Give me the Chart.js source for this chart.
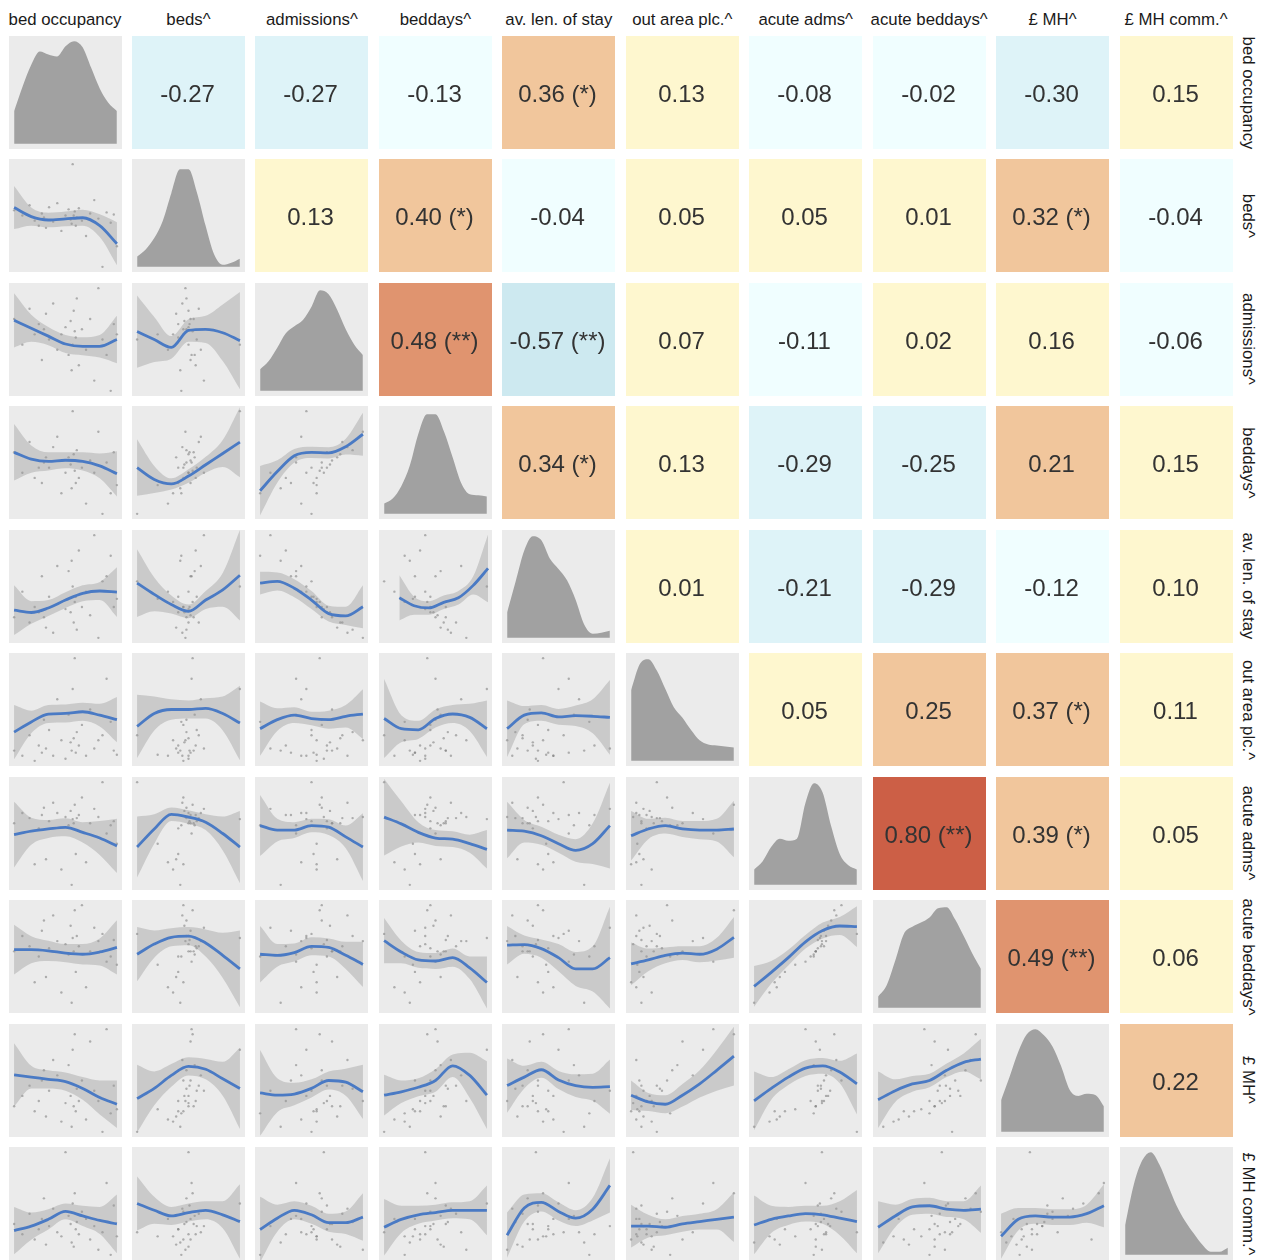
<!DOCTYPE html>
<html>
<head>
<meta charset="utf-8">
<script src="https://cdn.jsdelivr.net/npm/chart.js@4.4.1/dist/chart.umd.min.js"></script>
<style>
body { margin: 0; background: #fff; }
#wrap { position: relative; width: 1265px; height: 1260px; overflow: hidden; font-family: "Liberation Sans", Arial, sans-serif; }
.strip { position: absolute; font-size: 16.8px; color: #1a1a1a; white-space: nowrap; line-height: 18px; }
</style>
</head>
<body>
<div id="wrap"></div>
<script>
// variable names (strip labels)
const variables = ["bed occupancy", "beds^", "admissions^", "beddays^", "av. len. of stay",
    "out area plc.^", "acute adms^", "acute beddays^", "£ MH^", "£ MH comm.^"];

// observations, scaled 0-100 within each variable's range
const bedOccupancy = [0, 8, 15, 20, 24, 27, 29, 31, 34, 38, 42, 46, 50, 53, 55, 56, 57, 58, 59, 60, 61, 63, 66, 70, 74, 78, 82, 86, 90, 94, 97, 100];
const beds = [55, 50, 60, 45, 40, 52, 48, 38, 58, 44, 62, 35, 50, 56, 46, 42, 100, 50, 54, 40, 48, 57, 45, 30, 52, 65, 47, 0, 53, 43, 51, 20];
const admissions = [70, 45, 80, 55, 65, 30, 60, 75, 50, 85, 40, 55, 62, 35, 68, 20, 45, 78, 58, 52, 90, 25, 60, 40, 70, 10, 100, 50, 35, 0, 65, 55];
const beddays = [60, 40, 70, 35, 45, 30, 50, 55, 45, 65, 75, 20, 40, 55, 48, 25, 100, 58, 42, 30, 62, 35, 45, 10, 52, 40, 80, 0, 50, 20, 60, 28];
const avLenStay = [20, 45, 15, 30, 25, 60, 20, 10, 40, 5, 70, 35, 28, 65, 25, 75, 50, 15, 35, 40, 8, 85, 30, 45, 22, 100, 0, 55, 60, 80, 30, 38];
const outArea = [10, 5, 25, 0, 15, 8, 40, 12, 30, 5, 60, 20, 2, 45, 18, 10, 70, 22, 100, 8, 28, 15, 35, 5, 50, 12, 20, 25, 80, 38, 10, 6];
const acuteAdms = [60, 70, 65, 20, 55, 68, 75, 25, 62, 80, 70, 15, 66, 58, 72, 0, 64, 60, 78, 30, 65, 68, 85, 22, 60, 74, 66, 100, 50, 58, 62, 40];
const acuteBeddays = [55, 70, 60, 25, 50, 75, 85, 30, 58, 90, 65, 15, 62, 52, 80, 5, 68, 55, 95, 35, 70, 60, 100, 20, 55, 78, 65, 72, 45, 50, 66, 42];
const mhSpend = [25, 35, 45, 20, 30, 50, 60, 15, 40, 70, 55, 10, 28, 65, 35, 5, 80, 25, 95, 20, 42, 30, 50, 12, 88, 40, 30, 0, 100, 18, 45, 22];
const mhComm = [30, 20, 40, 15, 25, 35, 55, 10, 28, 45, 22, 18, 100, 38, 30, 12, 50, 8, 60, 25, 32, 20, 42, 35, 15, 28, 5, 22, 70, 0, 48, 18];
const varValues = [bedOccupancy, beds, admissions, beddays, avLenStay, outArea, acuteAdms, acuteBeddays, mhSpend, mhComm];

// upper panels, row by row
const corrValues = [
    -0.27, -0.27, -0.13, 0.36, 0.13, -0.08, -0.02, -0.30, 0.15,
    0.13, 0.40, -0.04, 0.05, 0.05, 0.01, 0.32, -0.04,
    0.48, -0.57, 0.07, -0.11, 0.02, 0.16, -0.06,
    0.34, 0.13, -0.29, -0.25, 0.21, 0.15,
    0.01, -0.21, -0.29, -0.12, 0.10,
    0.05, 0.25, 0.37, 0.11,
    0.80, 0.39, 0.05,
    0.49, 0.06,
    0.22];
const corrStars = [
    "", "", "", "*", "", "", "", "", "",
    "", "*", "", "", "", "", "*", "",
    "**", "**", "", "", "", "", "",
    "*", "", "", "", "", "",
    "", "", "", "", "",
    "", "", "*", "",
    "**", "*", "",
    "**", "",
    ""];

// diagonal densities (relative height) on a 13 point grid
const densityX = [0, 0.0833, 0.1667, 0.25, 0.3333, 0.4167, 0.5, 0.5833, 0.6667, 0.75, 0.8333, 0.9167, 1];
const densityHeights = [
    [0.32, 0.56, 0.77, 0.90, 0.87, 0.85, 0.95, 1.0, 0.94, 0.74, 0.54, 0.40, 0.32],
    [0.10, 0.17, 0.28, 0.45, 0.72, 0.95, 0.95, 0.72, 0.40, 0.12, 0.02, 0.04, 0.08],
    [0.21, 0.29, 0.42, 0.56, 0.63, 0.69, 0.82, 0.98, 0.94, 0.79, 0.60, 0.45, 0.35],
    [0.10, 0.15, 0.27, 0.47, 0.78, 0.97, 0.97, 0.80, 0.55, 0.30, 0.19, 0.18, 0.17],
    [0.25, 0.55, 0.85, 0.99, 0.95, 0.77, 0.67, 0.56, 0.37, 0.13, 0.04, 0.05, 0.07],
    [0.69, 0.94, 0.99, 0.88, 0.70, 0.52, 0.42, 0.30, 0.20, 0.16, 0.15, 0.14, 0.13],
    [0.15, 0.23, 0.37, 0.45, 0.43, 0.45, 0.80, 0.99, 0.90, 0.57, 0.30, 0.19, 0.15],
    [0.11, 0.22, 0.46, 0.72, 0.79, 0.83, 0.88, 0.97, 0.98, 0.86, 0.70, 0.53, 0.38],
    [0.31, 0.54, 0.78, 0.95, 1.0, 0.94, 0.83, 0.64, 0.41, 0.35, 0.37, 0.36, 0.25],
    [0.29, 0.68, 0.92, 1.0, 0.88, 0.68, 0.48, 0.33, 0.21, 0.10, 0.03, 0.03, 0.07]];

// lower panels: loess fit and se half-width, as a fraction of the panel, row by row
const smoothX = [0.045, 0.197, 0.348, 0.5, 0.652, 0.803, 0.955];
const smoothXShort = [0.18, 0.311, 0.442, 0.573, 0.703, 0.834, 0.965];
const smoothFit = [
    [0.57, 0.49, 0.46, 0.47, 0.48, 0.41, 0.25],
    [0.67, 0.60, 0.53, 0.46, 0.44, 0.44, 0.50],
    [0.57, 0.50, 0.43, 0.58, 0.59, 0.56, 0.49],
    [0.59, 0.53, 0.51, 0.52, 0.51, 0.47, 0.40],
    [0.455, 0.35, 0.31, 0.38, 0.48, 0.58, 0.68],
    [0.25, 0.42, 0.56, 0.59, 0.585, 0.64, 0.75],
    [0.29, 0.27, 0.31, 0.38, 0.44, 0.46, 0.45],
    [0.53, 0.43, 0.34, 0.28, 0.38, 0.47, 0.60],
    [0.53, 0.545, 0.485, 0.38, 0.26, 0.24, 0.32],
    [0.40, 0.33, 0.31, 0.36, 0.40, 0.51, 0.66],
    [0.30, 0.39, 0.46, 0.465, 0.48, 0.45, 0.41],
    [0.35, 0.465, 0.50, 0.50, 0.51, 0.465, 0.38],
    [0.33, 0.41, 0.45, 0.42, 0.41, 0.44, 0.46],
    [0.42, 0.33, 0.32, 0.42, 0.46, 0.43, 0.33],
    [0.33, 0.45, 0.47, 0.435, 0.445, 0.44, 0.43],
    [0.49, 0.52, 0.54, 0.555, 0.51, 0.46, 0.39],
    [0.38, 0.54, 0.67, 0.645, 0.60, 0.50, 0.38],
    [0.57, 0.53, 0.53, 0.57, 0.556, 0.47, 0.38],
    [0.645, 0.585, 0.51, 0.46, 0.45, 0.41, 0.36],
    [0.53, 0.52, 0.48, 0.41, 0.35, 0.41, 0.57],
    [0.48, 0.54, 0.57, 0.54, 0.53, 0.53, 0.54],
    [0.56, 0.56, 0.55, 0.53, 0.52, 0.54, 0.58],
    [0.52, 0.61, 0.67, 0.68, 0.62, 0.51, 0.39],
    [0.52, 0.51, 0.535, 0.59, 0.58, 0.51, 0.43],
    [0.64, 0.54, 0.47, 0.46, 0.49, 0.40, 0.27],
    [0.60, 0.605, 0.57, 0.49, 0.39, 0.39, 0.49],
    [0.435, 0.47, 0.51, 0.53, 0.52, 0.565, 0.67],
    [0.235, 0.36, 0.49, 0.63, 0.73, 0.77, 0.765],
    [0.55, 0.53, 0.51, 0.49, 0.43, 0.35, 0.29],
    [0.34, 0.43, 0.545, 0.625, 0.60, 0.515, 0.43],
    [0.39, 0.37, 0.38, 0.43, 0.50, 0.485, 0.40],
    [0.37, 0.40, 0.44, 0.50, 0.63, 0.545, 0.37],
    [0.455, 0.53, 0.595, 0.505, 0.455, 0.44, 0.445],
    [0.37, 0.31, 0.29, 0.37, 0.47, 0.59, 0.715],
    [0.32, 0.43, 0.53, 0.61, 0.63, 0.575, 0.47],
    [0.33, 0.41, 0.47, 0.50, 0.59, 0.66, 0.69],
    [0.26, 0.30, 0.36, 0.43, 0.39, 0.35, 0.32],
    [0.50, 0.44, 0.39, 0.42, 0.44, 0.40, 0.34],
    [0.27, 0.37, 0.44, 0.40, 0.33, 0.33, 0.38],
    [0.29, 0.36, 0.40, 0.42, 0.44, 0.44, 0.44],
    [0.22, 0.46, 0.51, 0.43, 0.37, 0.45, 0.66],
    [0.30, 0.30, 0.29, 0.32, 0.34, 0.36, 0.38],
    [0.31, 0.36, 0.39, 0.41, 0.40, 0.37, 0.34],
    [0.29, 0.39, 0.47, 0.48, 0.45, 0.44, 0.45],
    [0.21, 0.36, 0.39, 0.38, 0.38, 0.41, 0.48]];
const smoothSE = [
    [0.19, 0.08, 0.065, 0.065, 0.07, 0.10, 0.19],
    [0.24, 0.12, 0.08, 0.08, 0.08, 0.10, 0.21],
    [0.32, 0.20, 0.10, 0.10, 0.12, 0.25, 0.43],
    [0.25, 0.12, 0.08, 0.07, 0.08, 0.11, 0.20],
    [0.25, 0.12, 0.05, 0.06, 0.07, 0.12, 0.31],
    [0.22, 0.10, 0.06, 0.05, 0.05, 0.07, 0.19],
    [0.22, 0.10, 0.07, 0.07, 0.07, 0.08, 0.22],
    [0.30, 0.15, 0.08, 0.06, 0.08, 0.15, 0.40],
    [0.10, 0.08, 0.08, 0.08, 0.07, 0.08, 0.19],
    [0.20, 0.08, 0.06, 0.06, 0.06, 0.08, 0.30],
    [0.24, 0.10, 0.08, 0.08, 0.08, 0.10, 0.20],
    [0.28, 0.15, 0.09, 0.08, 0.09, 0.15, 0.33],
    [0.24, 0.10, 0.07, 0.06, 0.08, 0.10, 0.22],
    [0.35, 0.12, 0.08, 0.08, 0.08, 0.12, 0.25],
    [0.25, 0.08, 0.07, 0.07, 0.09, 0.15, 0.33],
    [0.29, 0.12, 0.08, 0.08, 0.09, 0.15, 0.24],
    [0.27, 0.13, 0.06, 0.06, 0.07, 0.15, 0.32],
    [0.27, 0.10, 0.07, 0.06, 0.07, 0.10, 0.30],
    [0.34, 0.20, 0.09, 0.07, 0.07, 0.08, 0.17],
    [0.25, 0.10, 0.08, 0.08, 0.10, 0.18, 0.38],
    [0.22, 0.09, 0.07, 0.07, 0.08, 0.10, 0.25],
    [0.22, 0.12, 0.09, 0.08, 0.09, 0.12, 0.24],
    [0.24, 0.12, 0.08, 0.08, 0.12, 0.20, 0.34],
    [0.25, 0.10, 0.08, 0.08, 0.08, 0.12, 0.20],
    [0.20, 0.10, 0.07, 0.07, 0.08, 0.10, 0.23],
    [0.17, 0.08, 0.08, 0.12, 0.15, 0.20, 0.45],
    [0.19, 0.10, 0.07, 0.06, 0.07, 0.10, 0.18],
    [0.18, 0.10, 0.07, 0.06, 0.07, 0.08, 0.18],
    [0.28, 0.10, 0.08, 0.08, 0.10, 0.15, 0.21],
    [0.30, 0.15, 0.10, 0.08, 0.09, 0.15, 0.36],
    [0.38, 0.15, 0.10, 0.08, 0.08, 0.12, 0.24],
    [0.18, 0.10, 0.08, 0.10, 0.10, 0.20, 0.30],
    [0.24, 0.10, 0.07, 0.08, 0.10, 0.12, 0.24],
    [0.13, 0.08, 0.08, 0.10, 0.12, 0.18, 0.26],
    [0.26, 0.10, 0.07, 0.07, 0.07, 0.10, 0.27],
    [0.25, 0.10, 0.07, 0.06, 0.06, 0.08, 0.18],
    [0.21, 0.12, 0.09, 0.07, 0.09, 0.12, 0.26],
    [0.24, 0.12, 0.08, 0.08, 0.08, 0.12, 0.33],
    [0.29, 0.12, 0.08, 0.08, 0.08, 0.10, 0.21],
    [0.25, 0.12, 0.08, 0.07, 0.07, 0.08, 0.22],
    [0.20, 0.12, 0.08, 0.08, 0.07, 0.10, 0.24],
    [0.19, 0.10, 0.07, 0.07, 0.07, 0.09, 0.22],
    [0.26, 0.12, 0.08, 0.07, 0.08, 0.15, 0.28],
    [0.23, 0.10, 0.07, 0.07, 0.07, 0.08, 0.21],
    [0.20, 0.10, 0.07, 0.07, 0.07, 0.08, 0.19]];

const LEFT0 = 8.5, TOP0 = 36, PITCH = 123.45, SIZE = 113;
const PANEL_BG = "#EBEBEB", DENS_FILL = "#A1A1A1", BAND = "rgba(153,153,153,0.4)";
const LINE_BLUE = "#4A7AC4", DOT = "rgba(120,120,120,0.55)";

Chart.defaults.animation = false;
Chart.defaults.events = [];
Chart.defaults.devicePixelRatio = 1;
Chart.defaults.layout.autoPadding = false;
Chart.defaults.layout.padding = 0;
Chart.defaults.plugins.legend.display = false;
Chart.defaults.plugins.tooltip.enabled = false;

const wrap = document.getElementById("wrap");

const panelBg = {
    id: "panelBg",
    beforeDraw(chart, args, opts) {
        const a = chart.chartArea;
        chart.ctx.save();
        chart.ctx.fillStyle = opts.color;
        chart.ctx.fillRect(a.left, a.top, a.right - a.left, a.bottom - a.top);
        chart.ctx.restore();
    }
};

const corrLabel = {
    id: "corrLabel",
    afterDatasetsDraw(chart, args, opts) {
        const a = chart.chartArea, ctx = chart.ctx;
        ctx.save();
        ctx.font = '24px "Liberation Sans", Arial, sans-serif';
        ctx.fillStyle = "#333333";
        ctx.textAlign = "center";
        ctx.textBaseline = "middle";
        ctx.fillText(opts.text, (a.left + a.right) / 2 - 1, (a.top + a.bottom) / 2 + 3);
        ctx.restore();
    }
};

function hidden(min, max) {
    return { type: "linear", min: min, max: max, display: false };
}

function tileColor(r) {
    if (r <= -0.5) return "#CDE9F0";
    if (r <= -0.2) return "#DEF3F8";
    if (r < 0) return "#F0FEFF";
    if (r < 0.2) return "#FEF7CF";
    if (r < 0.45) return "#F1C69C";
    if (r < 0.6) return "#E0946F";
    return "#CC5F46";
}

function makeCanvas(row, col) {
    const c = document.createElement("canvas");
    c.width = SIZE;
    c.height = SIZE;
    c.style.position = "absolute";
    c.style.left = Math.round(LEFT0 + col * PITCH) + "px";
    c.style.top = Math.round(TOP0 + row * PITCH) + "px";
    c.style.width = SIZE + "px";
    c.style.height = SIZE + "px";
    wrap.appendChild(c);
    return c;
}

function drawTile(row, col, k) {
    const r = corrValues[k];
    const text = r.toFixed(2) + (corrStars[k] ? " (" + corrStars[k] + ")" : "");
    new Chart(makeCanvas(row, col), {
        type: "bar",
        data: {
            labels: [""],
            datasets: [{ data: [1], backgroundColor: tileColor(r), borderWidth: 0, categoryPercentage: 1, barPercentage: 1 }]
        },
        options: {
            responsive: false,
            scales: { x: { display: false }, y: { display: false, min: 0, max: 1 } },
            plugins: { corrLabel: { text: text } }
        },
        plugins: [corrLabel]
    });
}

function drawDensity(idx) {
    const pts = densityX.map((x, n) => ({ x: x, y: densityHeights[idx][n] }));
    new Chart(makeCanvas(idx, idx), {
        type: "line",
        data: {
            datasets: [{
                data: pts, fill: { value: 0 }, backgroundColor: DENS_FILL,
                borderColor: "rgba(0,0,0,0)", borderWidth: 0, pointRadius: 0,
                cubicInterpolationMode: "monotone"
            }]
        },
        options: {
            responsive: false,
            scales: { x: hidden(-0.05, 1.05), y: hidden(-0.05, 1.05) },
            plugins: { panelBg: { color: PANEL_BG } }
        },
        plugins: [panelBg]
    });
}

function drawScatter(row, col, k) {
    const xs = varValues[col], ys = varValues[row];
    const pts = xs.map((x, n) => ({ x: x, y: ys[n] }));
    const gx = (row === 4 && col === 3) ? smoothXShort : smoothX;
    const fit = smoothFit[k], se = smoothSE[k];
    const line = gx.map((x, n) => ({ x: x, y: fit[n] }));
    const upper = gx.map((x, n) => ({ x: x, y: fit[n] + se[n] }));
    const lower = gx.map((x, n) => ({ x: x, y: fit[n] - se[n] }));
    const smoothOpts = { type: "line", xAxisID: "fx", yAxisID: "fy", pointRadius: 0, cubicInterpolationMode: "monotone" };
    new Chart(makeCanvas(row, col), {
        type: "scatter",
        data: {
            datasets: [
                Object.assign({}, smoothOpts, { data: line, borderColor: LINE_BLUE, borderWidth: 2.8, fill: false, order: 0 }),
                Object.assign({}, smoothOpts, { data: upper, borderColor: "rgba(0,0,0,0)", borderWidth: 0, fill: "+1", backgroundColor: BAND, order: 1 }),
                Object.assign({}, smoothOpts, { data: lower, borderColor: "rgba(0,0,0,0)", borderWidth: 0, fill: false, order: 2 }),
                { data: pts, pointRadius: 1.2, backgroundColor: DOT, borderWidth: 0, order: 3 }
            ]
        },
        options: {
            responsive: false,
            scales: { x: hidden(-5, 105), y: hidden(-5, 105), fx: hidden(0, 1), fy: hidden(0, 1) },
            plugins: { panelBg: { color: PANEL_BG } }
        },
        plugins: [panelBg]
    });
}

// strip labels
variables.forEach((name, j) => {
    const top = document.createElement("div");
    top.className = "strip";
    top.textContent = name;
    top.style.left = (LEFT0 + j * PITCH + SIZE / 2) + "px";
    top.style.top = "20px";
    top.style.transform = "translate(-50%, -50%)";
    wrap.appendChild(top);

    const side = document.createElement("div");
    side.className = "strip";
    side.textContent = name;
    side.style.left = "1248px";
    side.style.top = (TOP0 + j * PITCH + SIZE / 2) + "px";
    side.style.transform = "translate(-50%, -50%) rotate(90deg)";
    wrap.appendChild(side);
});

let upperK = 0;
for (let i = 0; i < variables.length; i++) {
    for (let j = i + 1; j < variables.length; j++) {
        drawTile(i, j, upperK++);
    }
}
for (let i = 0; i < variables.length; i++) drawDensity(i);
let lowerK = 0;
for (let i = 1; i < variables.length; i++) {
    for (let j = 0; j < i; j++) {
        drawScatter(i, j, lowerK++);
    }
}
</script>
</body>
</html>
